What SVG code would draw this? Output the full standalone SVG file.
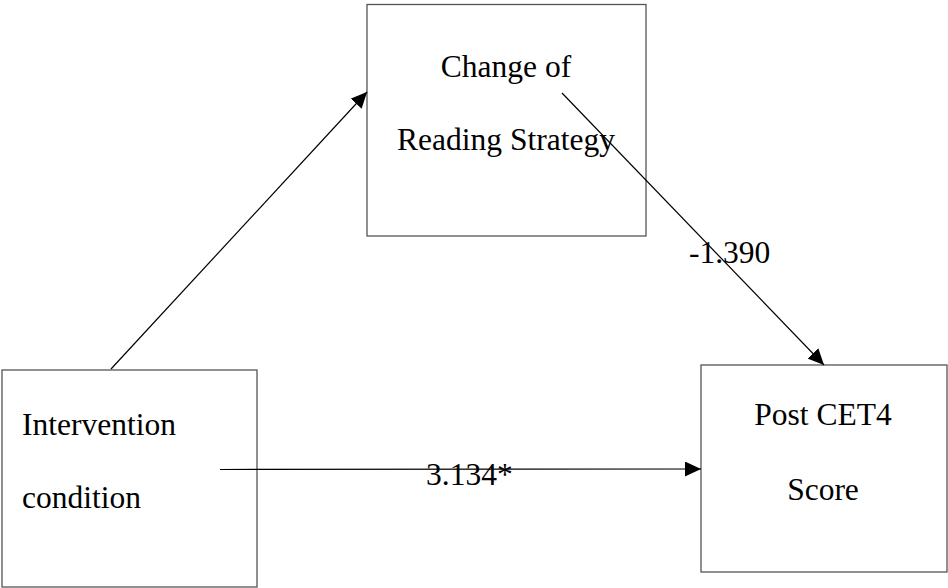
<svg xmlns="http://www.w3.org/2000/svg" width="948" height="588" viewBox="0 0 948 588">
<style>
.box{fill:#fff;stroke:#555;stroke-width:1.3}
.t{font-family:"Liberation Serif","Times New Roman",serif;font-size:31.5px;fill:#000}
.c{stroke:#000;stroke-width:1.2;fill:none;marker-end:url(#ah)}
</style>
<defs>
<marker id="ah" markerWidth="16" markerHeight="15" refX="16" refY="7.5" orient="auto" markerUnits="userSpaceOnUse">
<path d="M0,0 L16,7.5 L0,15 Z" fill="#000"/>
</marker>
</defs>
<rect width="948" height="588" fill="#fff"/>
<g id="node-strategy">
<rect class="box" x="367" y="4.5" width="279" height="231.5"/>
<text class="t" x="506" y="77" text-anchor="middle">Change of</text>
<text class="t" x="506" y="150" text-anchor="middle">Reading Strategy</text>
</g>
<g id="node-intervention">
<rect class="box" x="2" y="370" width="255" height="217"/>
<text class="t" x="22" y="435">Intervention</text>
<text class="t" x="22" y="508">condition</text>
</g>
<g id="node-post">
<rect class="box" x="701" y="365" width="246" height="207"/>
<text class="t" x="823" y="425" text-anchor="middle">Post CET4</text>
<text class="t" x="823" y="500" text-anchor="middle">Score</text>
</g>
<g id="connectors">
<line class="c" x1="111" y1="369" x2="367" y2="92"/>
<line class="c" x1="562" y1="93" x2="824" y2="365"/>
<line class="c" x1="220" y1="469.5" x2="701" y2="469"/>
<text class="t" x="689" y="263">-1.390</text>
<text class="t" x="426" y="485">3.134*</text>
</g>
</svg>
